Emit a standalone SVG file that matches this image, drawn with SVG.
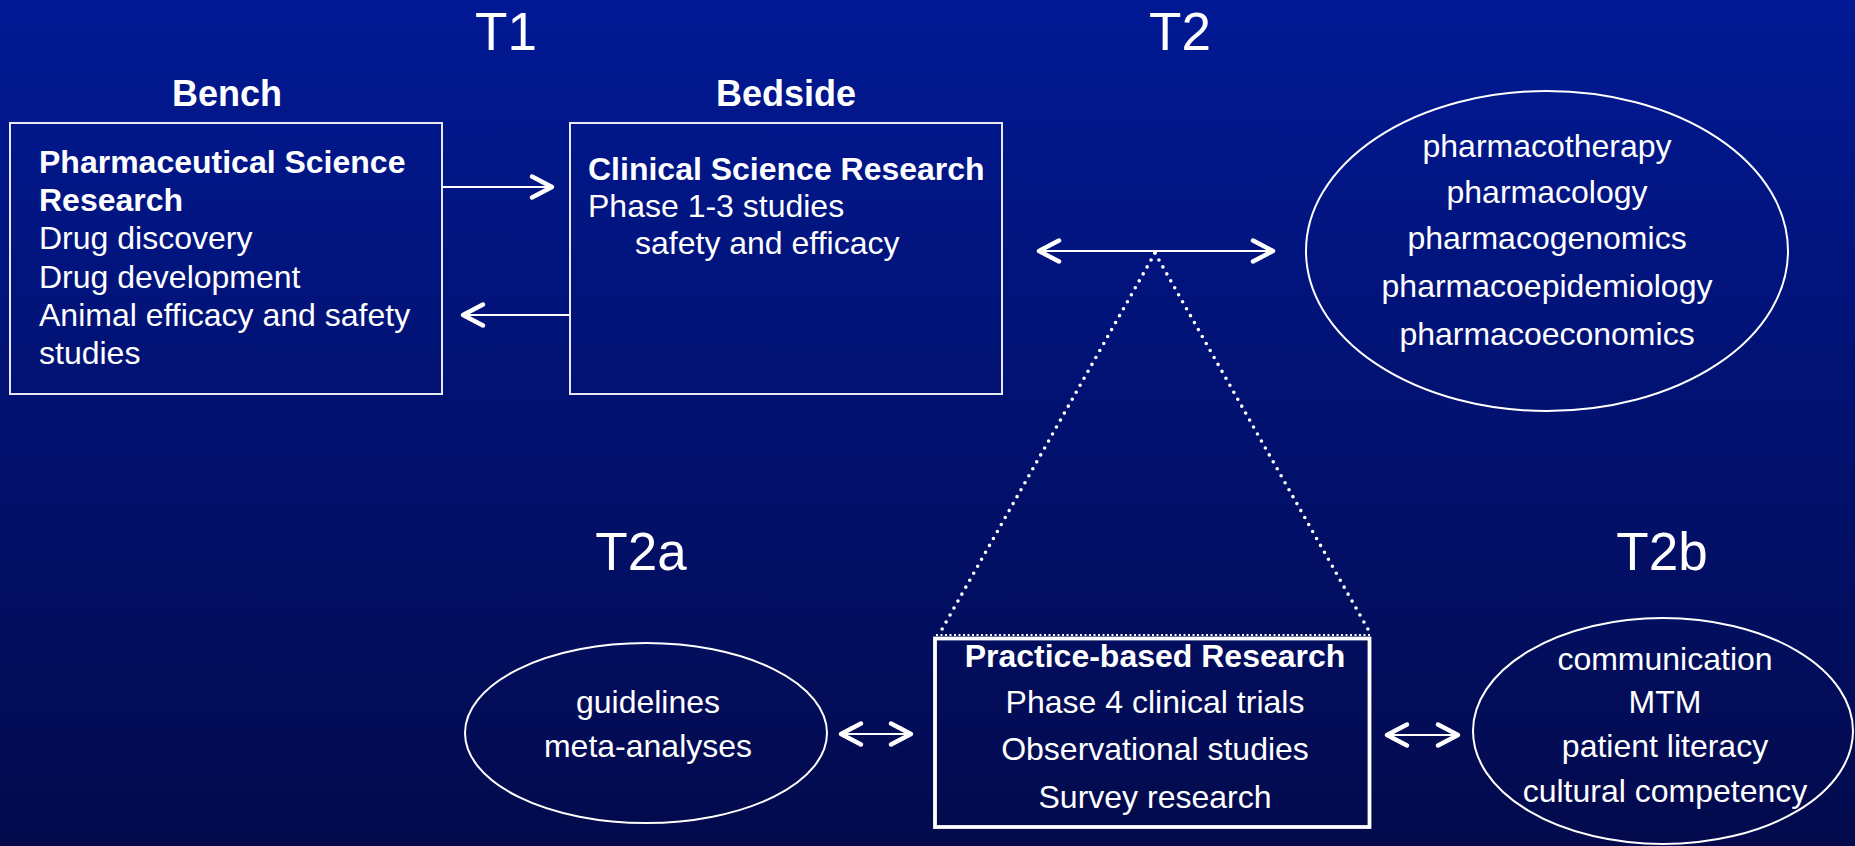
<svg xmlns="http://www.w3.org/2000/svg" width="1855" height="846" viewBox="0 0 1855 846">
<defs>
<linearGradient id="bg" x1="0" y1="0" x2="0" y2="1">
<stop offset="0" stop-color="#011994"/>
<stop offset="1" stop-color="#030a4c"/>
</linearGradient>
<marker id="chev" markerUnits="userSpaceOnUse" markerWidth="40" markerHeight="40" viewBox="-30 -20 40 40" refX="0" refY="0" orient="auto-start-reverse" overflow="visible">
<path d="M-20,-10.5 L0,0 L-20,10.5" fill="none" stroke="#fff" stroke-width="4.5" stroke-linecap="round" stroke-linejoin="round"/>
</marker>
<style>
text{font-family:"Liberation Sans",Arial,sans-serif;fill:#fff}
.t{font-size:53px;text-anchor:middle}
.h{font-size:36px;font-weight:bold;text-anchor:middle}
.b{font-size:32px;font-weight:bold}
.r{font-size:32px}
.c{text-anchor:middle}
.box{fill:none;stroke:#e8e8f4;stroke-width:2}
.ell{fill:none;stroke:#fff;stroke-width:2}
.arr{stroke:#fff;stroke-width:2.2;fill:none;marker-end:url(#chev)}
.arr2{stroke:#fff;stroke-width:2.2;fill:none;marker-start:url(#chev);marker-end:url(#chev)}
.dot{stroke:#fff;stroke-width:3.6;stroke-linecap:round;stroke-dasharray:0 8;fill:none}
</style>
</defs>
<rect x="0" y="0" width="1855" height="846" fill="url(#bg)"/>

<g id="labels">
<text class="t" x="506" y="50">T1</text>
<text class="t" x="1180" y="50">T2</text>
<text class="h" x="227" y="106">Bench</text>
<text class="h" x="786" y="106">Bedside</text>
<text class="t" x="641" y="570">T2a</text>
<text class="t" x="1662" y="570">T2b</text>
</g>

<g id="connectors">
<line class="arr" x1="443" y1="187" x2="552" y2="187"/>
<line class="arr" x1="571" y1="315" x2="463" y2="315"/>
<line class="arr2" x1="1039" y1="251" x2="1273" y2="251"/>
<line class="arr2" x1="841" y1="734" x2="911" y2="734"/>
<line class="arr2" x1="1387" y1="735" x2="1458" y2="735"/>
<path class="dot" d="M1155,253 L941,631"/>
<path class="dot" d="M1155,253 L1369,631"/>
<path d="M936,635 L1370,635" fill="none" stroke="#fff" stroke-width="2" stroke-dasharray="2 2.5"/>
</g>

<g id="pharm-science">
<rect class="box" x="10" y="123" width="432" height="271"/>
<text class="b" x="39" y="173">Pharmaceutical Science</text>
<text class="b" x="39" y="211">Research</text>
<text class="r" x="39" y="249">Drug discovery</text>
<text class="r" x="39" y="288">Drug development</text>
<text class="r" x="39" y="326">Animal efficacy and safety</text>
<text class="r" x="39" y="364">studies</text>
</g>

<g id="clinical-science">
<rect class="box" x="570" y="123" width="432" height="271"/>
<text class="b" x="588" y="180">Clinical Science Research</text>
<text class="r" x="588" y="217">Phase 1-3 studies</text>
<text class="r" x="635" y="254">safety and efficacy</text>
</g>

<g id="t2-fields">
<ellipse class="ell" cx="1547" cy="251" rx="241" ry="160"/>
<text class="r c" x="1547" y="157">pharmacotherapy</text>
<text class="r c" x="1547" y="203">pharmacology</text>
<text class="r c" x="1547" y="249">pharmacogenomics</text>
<text class="r c" x="1547" y="297">pharmacoepidemiology</text>
<text class="r c" x="1547" y="345">pharmacoeconomics</text>
</g>

<g id="practice-based">
<rect x="935" y="638.5" width="434.5" height="188.5" fill="none" stroke="#fff" stroke-width="3.8"/>
<text class="b c" x="1155" y="667">Practice-based Research</text>
<text class="r c" x="1155" y="713">Phase 4 clinical trials</text>
<text class="r c" x="1155" y="760">Observational studies</text>
<text class="r c" x="1155" y="808">Survey research</text>
</g>

<g id="t2a-fields">
<ellipse class="ell" cx="646" cy="733" rx="181" ry="90"/>
<text class="r c" x="648" y="713">guidelines</text>
<text class="r c" x="648" y="757">meta-analyses</text>
</g>

<g id="t2b-fields">
<ellipse class="ell" cx="1663" cy="731" rx="190" ry="113"/>
<text class="r c" x="1665" y="670">communication</text>
<text class="r c" x="1665" y="713">MTM</text>
<text class="r c" x="1665" y="757">patient literacy</text>
<text class="r c" x="1665" y="802">cultural competency</text>
</g>
</svg>
